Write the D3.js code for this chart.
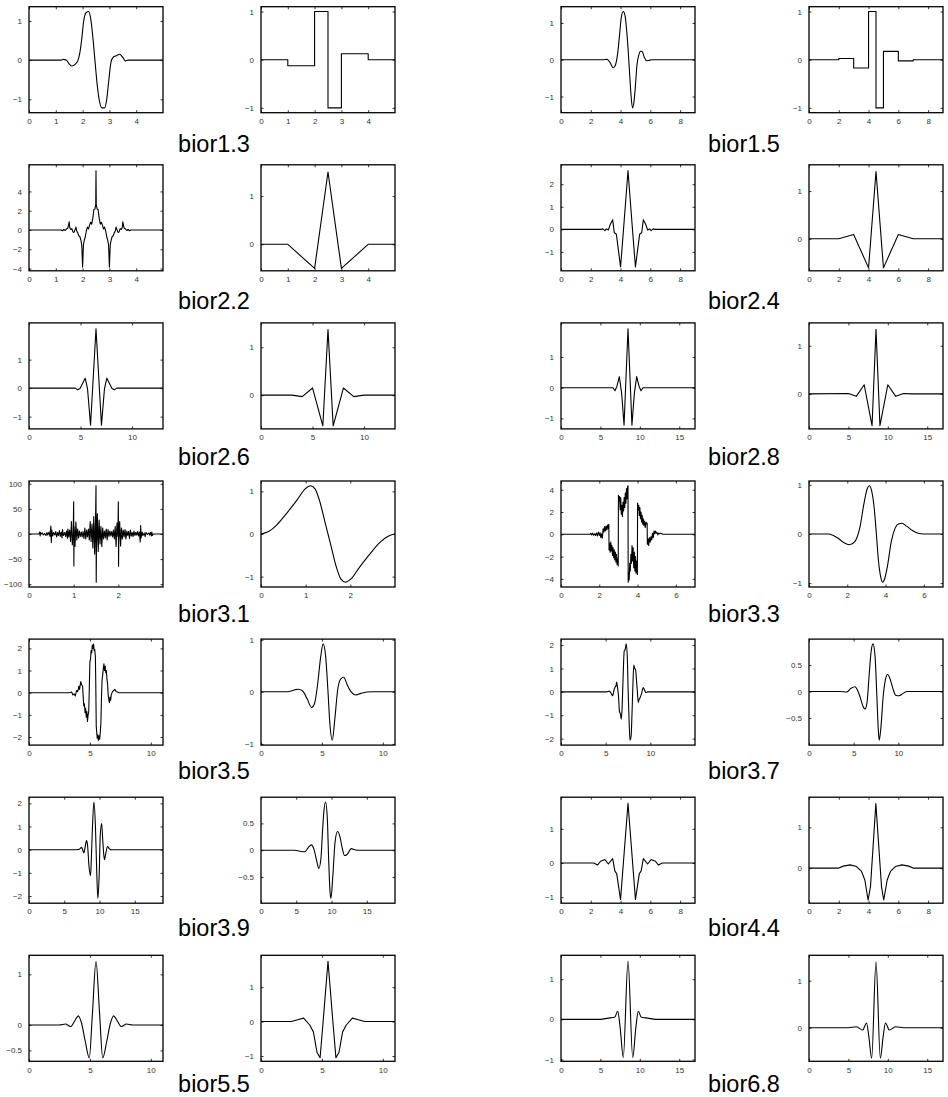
<!DOCTYPE html>
<html><head><meta charset="utf-8">
<script src="https://cdn.jsdelivr.net/npm/d3@7"></script>
<style>body{margin:0;background:#fff}svg{display:block}</style>
</head><body><svg id="c" width="948" height="1097"></svg>
<script>
// ---------- names ----------
const names = ["bior1.3","bior1.5","bior2.2","bior2.4","bior2.6","bior2.8","bior3.1","bior3.3","bior3.5","bior3.7","bior3.9","bior4.4","bior5.5","bior6.8"];

// ---------- tick arrays ----------
const xt5 = [0,1,2,3,4];
const xt9 = [0,2,4,6,8];
const xt13 = [0,5,10];
const xt17 = [0,5,10,15];
const xt3 = [0,1,2];
const xt7 = [0,2,4,6];
const xt11 = [0,5,10];
const xt15 = [0,5,10];
const xt19 = [0,5,10,15];
const ytUnit = [-1,0,1];
const ytPos = [0,1];
const ytFour = [-4,-2,0,2,4];
const ytTwoUp = [-1,0,1,2];
const ytHundred = [-100,-50,0,50,100];
const ytTwo = [-2,-1,0,1,2];
const ytHalf = [-0.5,0,0.5];
const ytHalfOne = [-0.5,0,1];

// ---------- series ----------
const bior13_dec = [[0,0],[1.2,0],[1.28,0.02],[1.4,0.0],[1.5,-0.1],[1.6,-0.15],[1.73,-0.1],[1.82,-0.02],[1.9,0.2],[1.97,0.55],[2.04,1.0],[2.13,1.21],[2.22,1.24],[2.3,1.07],[2.38,0.6],[2.46,0],[2.54,-0.6],[2.63,-1.05],[2.72,-1.22],[2.82,-1.22],[2.9,-1.0],[2.98,-0.5],[3.06,-0.05],[3.15,0.08],[3.25,0.11],[3.38,0.15],[3.5,0.07],[3.6,-0.02],[3.7,0.0],[3.8,0],[5,0]];
const bior13_rec = [[0,0],[1,-0.125],[2,1],[2.5,-1],[3,0.125],[4,0],[5,0]];
const bior15_dec = [[0,0],[2.8,0],[3.1,0.01],[3.3,-0.08],[3.5,-0.22],[3.62,-0.18],[3.8,0.15],[3.95,0.75],[4.05,1.15],[4.18,1.31],[4.3,1.2],[4.42,0.75],[4.52,0.2],[4.62,-0.45],[4.7,-0.95],[4.8,-1.31],[4.9,-1.15],[5.0,-0.7],[5.1,-0.15],[5.22,0.12],[5.35,0.23],[5.45,0.22],[5.6,0.06],[5.75,-0.03],[5.9,-0.02],[6.1,0],[9,0]];
const bior15_rec = [[0,0],[2,0.0234],[3,-0.172],[4,1],[4.5,-1],[5,0.172],[6,-0.0234],[7,0],[9,0]];
const bior22_dec = [[0,0],[1.2,0],[1.25,-0.08],[1.3,0.05],[1.35,-0.05],[1.4,0.1],[1.45,0.2],[1.5,0.85],[1.52,0.25],[1.56,0.05],[1.6,0.15],[1.64,-0.2],[1.68,-0.25],[1.72,0.05],[1.75,0.3],[1.78,-0.1],[1.82,-0.3],[1.86,-0.6],[1.9,-0.7],[1.94,-1.1],[1.97,-1.6],[2.0,-3.85],[2.03,-1.6],[2.06,-1.1],[2.1,-0.7],[2.14,-0.1],[2.18,0.3],[2.22,0.1],[2.26,0.5],[2.3,0.8],[2.34,0.6],[2.38,1.2],[2.42,2.1],[2.46,2.2],[2.49,2.6],[2.5,6.15],[2.51,2.6],[2.54,2.2],[2.58,2.1],[2.62,1.2],[2.66,0.6],[2.7,0.8],[2.74,0.5],[2.78,0.1],[2.82,0.3],[2.86,-0.1],[2.9,-0.7],[2.94,-1.1],[2.97,-1.6],[3.0,-3.85],[3.03,-1.6],[3.06,-1.1],[3.1,-0.7],[3.14,-0.6],[3.18,-0.3],[3.22,-0.1],[3.25,0.3],[3.28,0.05],[3.32,-0.25],[3.36,-0.2],[3.4,0.15],[3.44,0.05],[3.48,0.25],[3.5,0.85],[3.55,0.2],[3.6,0.1],[3.65,-0.05],[3.7,0.05],[3.75,-0.08],[3.8,0],[5,0]];
const bior22_rec = [[0,0],[1,0],[2,-0.5],[2.5,1.5],[3,-0.5],[4,0],[5,0]];
const bior24_dec = [[0,0],[2.7,0],[2.8,0.02],[2.95,-0.06],[3.06,0.02],[3.18,-0.03],[3.3,0.2],[3.47,0.43],[3.58,-0.15],[3.72,-0.22],[4.0,-1.67],[4.17,-0.25],[4.5,2.6],[4.83,-0.25],[5.0,-1.67],[5.28,-0.22],[5.42,-0.15],[5.53,0.43],[5.7,0.2],[5.82,-0.03],[5.94,0.02],[6.05,-0.06],[6.2,0.02],[6.3,0],[9,0]];
const bior24_rec = [[0,0],[2,0],[3,0.09],[4,-0.61],[4.5,1.41],[5,-0.61],[6,0.09],[7,0],[9,0]];
const bior26_dec = [[0,0],[4.5,0],[4.72,-0.06],[4.95,-0.01],[5.45,0.35],[5.68,-0.03],[5.97,-1.3],[6.5,2.08],[7.03,-1.3],[7.32,-0.03],[7.55,0.35],[8.05,-0.01],[8.28,-0.06],[8.5,0],[13,0]];
const bior26_rec = [[0,0],[3,0],[4,-0.03],[5,0.15],[6,-0.64],[6.5,1.37],[7,-0.64],[8,0.15],[9,-0.03],[10,0],[13,0]];
const bior28_dec = [[0,0],[6.3,0],[6.6,0.0],[6.85,-0.1],[7.1,0.05],[7.4,0.36],[7.7,-0.2],[8.0,-1.22],[8.5,1.92],[9.0,-1.22],[9.3,-0.2],[9.6,0.36],[9.9,0.05],[10.15,-0.1],[10.4,0.0],[10.7,0],[17,0]];
const bior28_rec = [[0,0],[5,0.01],[6,-0.05],[7,0.19],[8,-0.66],[8.5,1.34],[9,-0.66],[10,0.19],[11,-0.05],[12,0.01],[13,0],[17,0]];
const bior31_dec = [[0,0],[0.22,0],[0.24,4],[0.25,-4],[0.26,3],[0.28,0],[0.3,2],[0.32,-2],[0.35,1],[0.38,-3],[0.4,3],[0.42,-2],[0.45,4],[0.47,-5],[0.49,16],[0.5,-17],[0.51,8],[0.53,-4],[0.55,3],[0.58,-2],[0.6,5],[0.62,-6],[0.64,3],[0.66,-3],[0.68,7],[0.7,-5],[0.72,4],[0.74,-8],[0.75,9],[0.77,-3],[0.8,3],[0.82,-5],[0.84,6],[0.86,-9],[0.87,10],[0.89,-6],[0.91,8],[0.93,-15],[0.95,25],[0.97,-22],[0.99,5],[1.0,64],[1.005,-64],[1.01,15],[1.03,-25],[1.05,24],[1.07,-12],[1.09,10],[1.11,-8],[1.13,6],[1.15,-5],[1.17,4],[1.19,-6],[1.21,5],[1.23,-9],[1.25,12],[1.27,-10],[1.29,8],[1.31,-6],[1.33,10],[1.35,-12],[1.37,25],[1.39,-15],[1.41,20],[1.43,-28],[1.45,35],[1.47,-40],[1.49,30],[1.5,96],[1.505,-96],[1.51,-30],[1.53,40],[1.55,-35],[1.57,28],[1.59,-20],[1.61,15],[1.63,-25],[1.65,12],[1.67,-10],[1.69,6],[1.71,-8],[1.73,10],[1.75,-12],[1.77,9],[1.79,-5],[1.81,6],[1.83,-4],[1.85,5],[1.87,-6],[1.89,8],[1.91,-10],[1.93,15],[1.95,-25],[1.97,22],[1.99,-5],[2.0,64],[2.005,-64],[2.01,-15],[2.03,25],[2.05,-24],[2.07,12],[2.09,-10],[2.11,8],[2.13,-6],[2.15,9],[2.17,-10],[2.19,6],[2.21,-3],[2.23,5],[2.25,-9],[2.27,8],[2.29,-4],[2.31,3],[2.33,-5],[2.35,6],[2.37,-3],[2.39,3],[2.41,-2],[2.43,5],[2.45,-4],[2.47,4],[2.49,-16],[2.5,17],[2.51,-8],[2.53,4],[2.55,-3],[2.58,2],[2.6,-5],[2.62,3],[2.65,-1],[2.68,2],[2.7,-2],[2.72,3],[2.74,-4],[2.75,4],[2.76,-3],[2.78,0],[3,0]];
const bior31_rec = [[0,0],[0.13,0.04],[0.35,0.21],[0.57,0.48],[0.8,0.79],[0.99,1.06],[1.11,1.13],[1.21,1.06],[1.32,0.75],[1.43,0.29],[1.5,0],[1.57,-0.29],[1.68,-0.75],[1.79,-1.06],[1.89,-1.13],[2.01,-1.06],[2.2,-0.79],[2.43,-0.48],[2.65,-0.21],[2.87,-0.04],[3,0]];
const bior33_dec = [[0,0],[1.5,0],[1.55,0.08],[1.6,-0.05],[1.65,0.1],[1.7,-0.08],[1.75,0.05],[1.8,-0.1],[1.85,0.12],[1.9,-0.15],[1.95,0.2],[2.0,-0.1],[2.04,0.15],[2.08,-0.3],[2.12,0.05],[2.16,-0.35],[2.2,0.5],[2.24,0.2],[2.28,0.7],[2.32,0.3],[2.36,0.75],[2.4,0.4],[2.44,0.85],[2.48,0.5],[2.5,0.9],[2.51,-1.4],[2.54,-0.8],[2.57,-1.6],[2.6,-0.7],[2.63,-1.5],[2.66,-1.0],[2.69,-1.9],[2.72,-1.2],[2.75,-2.1],[2.78,-1.4],[2.81,-2.3],[2.84,-1.6],[2.87,-2.5],[2.9,-1.8],[2.93,-2.7],[2.96,-2.2],[2.99,-2.85],[3.0,3.5],[3.03,3.0],[3.06,3.4],[3.09,2.2],[3.12,3.3],[3.15,1.8],[3.18,2.6],[3.21,1.6],[3.24,2.9],[3.27,2.1],[3.3,3.3],[3.33,2.4],[3.36,3.7],[3.39,2.8],[3.42,4.1],[3.45,3.2],[3.48,4.3],[3.5,4.35],[3.51,-4.3],[3.53,-3.4],[3.56,-4.1],[3.59,-2.6],[3.62,-3.3],[3.65,-1.8],[3.68,-2.6],[3.71,-1.0],[3.74,-2.4],[3.77,-1.2],[3.8,-3.0],[3.83,-1.6],[3.86,-3.3],[3.89,-2.0],[3.92,-3.5],[3.95,-2.4],[3.99,-3.6],[4.0,2.8],[4.03,2.2],[4.06,2.6],[4.09,1.7],[4.12,2.4],[4.15,1.4],[4.18,2.0],[4.21,1.1],[4.24,1.7],[4.27,0.9],[4.3,1.4],[4.33,0.8],[4.36,1.2],[4.4,0.6],[4.44,1.1],[4.48,0.9],[4.5,1.0],[4.51,-0.9],[4.55,-0.4],[4.58,-1.0],[4.62,-0.3],[4.66,-0.7],[4.7,-0.2],[4.74,-0.5],[4.78,0.1],[4.82,-0.3],[4.86,0.3],[4.9,0.05],[4.94,0.3],[4.98,0.1],[5.02,0.15],[5.06,-0.05],[5.1,0.1],[5.15,0.05],[5.2,0.1],[5.3,0.02],[5.4,0],[7,0]];
const bior33_rec = [[0,0],[1,0],[1.1,-0.005],[1.5,-0.08],[1.8,-0.17],[2.12,-0.22],[2.4,-0.15],[2.65,0.12],[2.9,0.68],[3.05,0.93],[3.15,0.98],[3.27,0.88],[3.4,0.55],[3.52,0.0],[3.63,-0.55],[3.75,-0.88],[3.85,-0.98],[3.96,-0.9],[4.1,-0.65],[4.3,-0.15],[4.5,0.12],[4.7,0.21],[4.85,0.22],[5.1,0.16],[5.4,0.07],[5.7,0.015],[6,0],[7,0]];
const bior35_dec = [[0,0],[3.3,0],[3.5,0.03],[3.6,-0.1],[3.7,-0.05],[3.8,-0.15],[3.9,0.1],[4.0,0.05],[4.1,0.3],[4.15,0.15],[4.25,0.5],[4.32,0.35],[4.4,0.3],[4.45,-0.2],[4.5,-0.6],[4.55,-0.5],[4.6,-0.9],[4.65,-0.7],[4.7,-1.1],[4.75,-0.85],[4.8,-1.3],[4.85,-1.0],[4.9,-0.9],[4.95,0.2],[5.0,1.4],[5.05,1.5],[5.1,1.9],[5.15,1.8],[5.2,2.15],[5.25,2.0],[5.3,2.2],[5.35,1.9],[5.4,1.95],[5.45,1.6],[5.48,0.5],[5.52,-1.5],[5.56,-1.8],[5.6,-2.05],[5.65,-1.9],[5.7,-2.15],[5.75,-1.95],[5.8,-2.1],[5.85,-1.8],[5.9,-1.4],[5.95,-0.2],[6.0,0.6],[6.05,0.8],[6.1,1.1],[6.15,1.3],[6.2,1.0],[6.25,1.2],[6.3,0.9],[6.35,1.0],[6.4,0.6],[6.45,0.4],[6.5,-0.1],[6.55,-0.3],[6.6,-0.45],[6.65,-0.2],[6.7,-0.35],[6.75,-0.1],[6.85,0.05],[6.95,0.1],[7.05,0.15],[7.15,0.05],[7.25,0.03],[7.4,0],[11,0]];
const bior35_rec = [[0,0],[2,0],[2.4,0.01],[2.8,0.04],[3.05,0.05],[3.4,0.02],[3.8,-0.14],[4.15,-0.3],[4.4,-0.22],[4.65,0.15],[4.9,0.67],[5.1,0.92],[5.3,0.7],[5.5,0.0],[5.65,-0.6],[5.85,-0.93],[6.05,-0.55],[6.3,0.05],[6.55,0.25],[6.8,0.28],[7.05,0.15],[7.4,0.0],[7.8,-0.06],[8.2,-0.03],[8.7,-0.005],[9.2,0],[11,0]];
const bior37_dec = [[0,0],[5.1,0],[5.4,0.03],[5.6,-0.05],[5.78,-0.17],[5.95,0.1],[6.05,0.2],[6.15,0.25],[6.23,0.42],[6.32,0.2],[6.42,-0.1],[6.55,-0.85],[6.65,-0.95],[6.75,-1.17],[6.85,-0.6],[6.95,0.6],[7.08,1.75],[7.18,1.8],[7.3,2.05],[7.42,1.5],[7.52,0.0],[7.62,-1.2],[7.72,-2.07],[7.85,-1.9],[7.95,-0.9],[8.05,0.3],[8.15,1.15],[8.25,1.0],[8.35,0.95],[8.45,0.5],[8.55,0.0],[8.65,-0.45],[8.72,-0.35],[8.85,-0.25],[9.0,-0.1],[9.2,0.18],[9.35,0.08],[9.5,-0.03],[9.7,0.0],[15,0]];
const bior37_rec = [[0,0],[3.5,0],[4.2,-0.01],[4.7,0.06],[5.13,0.09],[5.45,0.02],[5.75,-0.12],[6.1,-0.3],[6.27,-0.33],[6.5,-0.2],[6.75,0.35],[6.95,0.75],[7.17,0.9],[7.4,0.65],[7.6,-0.1],[7.75,-0.7],[7.86,-0.92],[8.05,-0.68],[8.3,-0.1],[8.55,0.22],[8.8,0.32],[9.05,0.25],[9.4,0.05],[9.7,-0.07],[10.1,-0.08],[10.5,-0.04],[11,0.0],[11.6,0],[15,0]];
const bior39_dec = [[0,0],[6.8,0],[7.2,0.03],[7.45,0.1],[7.6,0.0],[7.78,-0.14],[7.95,0.1],[8.16,0.39],[8.3,0.2],[8.5,-0.69],[8.73,-1.12],[8.85,-0.3],[8.97,0.74],[9.2,2.06],[9.42,1.0],[9.58,-0.69],[9.76,-2.1],[9.95,-1.1],[10.1,0.6],[10.3,1.13],[10.45,0.45],[10.6,-0.2],[10.7,-0.43],[10.9,-0.15],[11.13,0.14],[11.37,0.05],[11.6,-0.01],[11.9,0],[19,0]];
const bior39_rec = [[0,0],[4.8,0],[5.5,-0.02],[6.2,-0.03],[6.7,0.05],[7.17,0.1],[7.5,0.02],[7.9,-0.2],[8.2,-0.34],[8.5,-0.15],[8.7,0.3],[8.9,0.7],[9.15,0.9],[9.4,0.6],[9.6,-0.2],[9.8,-0.8],[9.92,-0.9],[10.2,-0.45],[10.5,0.15],[10.85,0.35],[11.2,0.25],[11.5,0.05],[11.85,-0.1],[12.2,-0.08],[12.8,0.03],[13.3,0.01],[14,0],[19,0]];
const bior44_dec = [[0,0],[1.95,0],[2.2,0.0],[2.45,-0.06],[2.66,0.05],[2.95,0.1],[3.18,-0.03],[3.47,0.13],[3.62,-0.24],[3.74,-0.31],[4.0,-1.07],[4.5,1.75],[5.0,-1.07],[5.26,-0.31],[5.38,-0.24],[5.53,0.13],[5.82,-0.03],[6.05,0.1],[6.34,0.05],[6.55,-0.06],[6.8,0.0],[7.05,0],[9,0]];
const bior44_rec = [[0,0],[1.96,0],[2.3,0.05],[2.75,0.08],[3.19,0.04],[3.53,-0.08],[3.75,-0.29],[3.97,-0.78],[4.13,-0.45],[4.49,1.58],[4.87,-0.45],[5.02,-0.78],[5.25,-0.29],[5.47,-0.08],[5.8,0.04],[6.25,0.08],[6.7,0.05],[7.03,0],[9,0]];
const bior55_dec = [[0,0],[2.5,0],[3.0,0.02],[3.4,-0.03],[3.8,0.1],[4.05,0.18],[4.3,0.05],[4.6,-0.3],[4.95,-0.65],[5.2,0.2],[5.5,1.25],[5.8,0.2],[6.05,-0.65],[6.4,-0.3],[6.7,0.05],[6.95,0.18],[7.2,0.1],[7.6,-0.03],[8.0,0.02],[8.5,0],[11,0]];
const bior55_rec = [[0,0],[2.5,0],[3.0,0.05],[3.5,0.1],[4.0,-0.1],[4.3,-0.3],[4.6,-0.9],[4.85,-1.05],[5.1,0.0],[5.5,1.75],[5.9,0.0],[6.15,-1.05],[6.4,-0.9],[6.7,-0.3],[7.0,-0.1],[7.5,0.1],[8.0,0.05],[8.5,0],[11,0]];
const bior68_dec = [[0,0],[5,0],[6,0.03],[6.8,0.05],[7.2,0.2],[7.5,-0.2],[7.9,-0.95],[8.5,1.45],[9.1,-0.95],[9.5,-0.2],[9.8,0.2],[10.2,0.05],[11,0.03],[12,0],[17,0]];
const bior68_rec = [[0,0],[5,0],[6,0.02],[6.8,-0.05],[7.3,0.1],[7.6,-0.2],[7.95,-0.65],[8.5,1.4],[9.05,-0.65],[9.4,-0.2],[9.7,0.1],[10.2,-0.05],[11,0.02],[12,0],[17,0]];

// ---------- panel table (row by row, 4 columns) ----------
const panels = [
  {data: bior13_dec, curve: "smooth", xMax: 5,  xTicks: xt5,  yTicks: ytUnit},
  {data: bior13_rec, curve: "step",   xMax: 5,  xTicks: xt5,  yTicks: ytUnit},
  {data: bior15_dec, curve: "smooth", xMax: 9,  xTicks: xt9,  yTicks: ytUnit},
  {data: bior15_rec, curve: "step",   xMax: 9,  xTicks: xt9,  yTicks: ytUnit},
  {data: bior22_dec, curve: "linear", xMax: 5,  xTicks: xt5,  yTicks: ytFour},
  {data: bior22_rec, curve: "linear", xMax: 5,  xTicks: xt5,  yTicks: ytPos},
  {data: bior24_dec, curve: "linear", xMax: 9,  xTicks: xt9,  yTicks: ytTwoUp},
  {data: bior24_rec, curve: "linear", xMax: 9,  xTicks: xt9,  yTicks: ytPos},
  {data: bior26_dec, curve: "linear", xMax: 13, xTicks: xt13, yTicks: ytUnit},
  {data: bior26_rec, curve: "linear", xMax: 13, xTicks: xt13, yTicks: ytPos},
  {data: bior28_dec, curve: "linear", xMax: 17, xTicks: xt17, yTicks: ytUnit},
  {data: bior28_rec, curve: "linear", xMax: 17, xTicks: xt17, yTicks: ytPos},
  {data: bior31_dec, curve: "linear", xMax: 3,  xTicks: xt3,  yTicks: ytHundred},
  {data: bior31_rec, curve: "smooth", xMax: 3,  xTicks: xt3,  yTicks: ytUnit},
  {data: bior33_dec, curve: "linear", xMax: 7,  xTicks: xt7,  yTicks: ytFour},
  {data: bior33_rec, curve: "smooth", xMax: 7,  xTicks: xt7,  yTicks: ytUnit},
  {data: bior35_dec, curve: "linear", xMax: 11, xTicks: xt11, yTicks: ytTwo},
  {data: bior35_rec, curve: "smooth", xMax: 11, xTicks: xt11, yTicks: ytUnit},
  {data: bior37_dec, curve: "smooth", xMax: 15, xTicks: xt15, yTicks: ytTwo},
  {data: bior37_rec, curve: "smooth", xMax: 15, xTicks: xt15, yTicks: ytHalf},
  {data: bior39_dec, curve: "smooth", xMax: 19, xTicks: xt19, yTicks: ytTwo},
  {data: bior39_rec, curve: "smooth", xMax: 19, xTicks: xt19, yTicks: ytHalf},
  {data: bior44_dec, curve: "linear", xMax: 9,  xTicks: xt9,  yTicks: ytUnit},
  {data: bior44_rec, curve: "linear", xMax: 9,  xTicks: xt9,  yTicks: ytPos},
  {data: bior55_dec, curve: "smooth", xMax: 11, xTicks: xt11, yTicks: ytHalfOne},
  {data: bior55_rec, curve: "linear", xMax: 11, xTicks: xt11, yTicks: ytUnit},
  {data: bior68_dec, curve: "smooth", xMax: 17, xTicks: xt17, yTicks: ytUnit},
  {data: bior68_rec, curve: "smooth", xMax: 17, xTicks: xt17, yTicks: ytPos}
];

// ---------- drawing ----------
const curves = {smooth: d3.curveMonotoneX, linear: d3.curveLinear, step: d3.curveStepAfter};
const svg = d3.select("#c");
const colX = [29, 261, 561, 809];
const W = 134, H = 106;
const rowTop = r => 6.7 + r * 158.1;
const labelBase = r => 152 + r * 156.7;
const labelX = [214, 744];
const fmt = d3.format("~g");
const FONT = "'Liberation Sans', Arial, Helvetica, sans-serif";

panels.forEach((p, i) => {
  const r = Math.floor(i / 4), c = i % 4;
  const g = svg.append("g").attr("transform", `translate(${colX[c]},${rowTop(r)})`);
  const x = d3.scaleLinear().domain([0, p.xMax]).range([0, W]);
  const ext = d3.extent(p.data, d => d[1]);
  const y = d3.scaleLinear().domain([ext[0] * 1.1, ext[1] * 1.1]).range([H, 0]);

  const line = d3.line().x(d => x(d[0])).y(d => y(d[1])).curve(curves[p.curve]);
  g.append("path").attr("d", line(p.data))
    .attr("fill", "none").attr("stroke", "#000").attr("stroke-width", 1.1)
    .attr("stroke-linejoin", "round");

  const styleAxis = sel => {
    sel.select(".domain").remove();
    sel.selectAll(".tick line").attr("stroke", "#000").attr("stroke-width", 0.8);
    sel.selectAll("text").attr("fill", "#333").attr("font-size", 8).attr("font-family", FONT);
  };
  g.append("g").attr("transform", `translate(0,${H})`)
    .call(d3.axisBottom(x).tickValues(p.xTicks).tickSize(-2.5).tickPadding(5.6).tickFormat(fmt))
    .call(styleAxis);
  g.append("g")
    .call(d3.axisTop(x).tickValues(p.xTicks).tickSize(-2.5).tickFormat(""))
    .call(styleAxis);
  g.append("g")
    .call(d3.axisLeft(y).tickValues(p.yTicks).tickSize(-2.5).tickPadding(7).tickFormat(fmt))
    .call(styleAxis);
  g.append("g").attr("transform", `translate(${W},0)`)
    .call(d3.axisRight(y).tickValues(p.yTicks).tickSize(-2.5).tickFormat(""))
    .call(styleAxis);

  g.append("rect").attr("width", W).attr("height", H)
    .attr("fill", "none").attr("stroke", "#000").attr("stroke-width", 1.3);
});

names.forEach((n, k) => {
  const r = Math.floor(k / 2), side = k % 2;
  svg.append("text").attr("x", labelX[side]).attr("y", labelBase(r))
    .attr("text-anchor", "middle").attr("font-family", FONT).attr("font-size", 23.5)
    .attr("fill", "#000").text(n);
});
</script></body></html>
